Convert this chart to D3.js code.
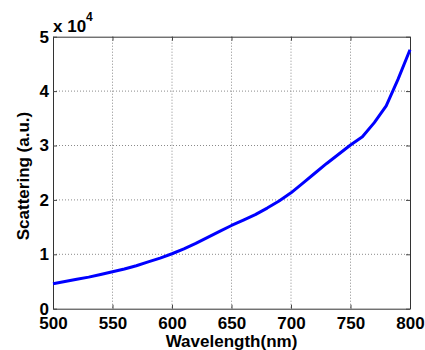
<!DOCTYPE html>
<html>
<head>
<meta charset="utf-8">
<script src="https://cdn.jsdelivr.net/npm/d3@7/dist/d3.min.js"></script>
<style>
  html, body { margin: 0; padding: 0; background: #fff; }
  svg { display: block; }
  text { font-family: "Liberation Sans", Arial, sans-serif; font-weight: bold; fill: #000; }
</style>
</head>
<body>
<svg id="chart" width="425" height="350"></svg>
<script>
const wavelengths = [500,510,520,530,540,550,560,570,580,590,600,610,620,630,640,650,660,670,680,690,700,710,720,730,740,750,760,770,780,790,800];
const scattering = [4600,5000,5400,5800,6300,6800,7300,7900,8600,9300,10100,11000,12000,13100,14200,15300,16300,17300,18500,19800,21300,23100,24900,26700,28400,30100,31600,34200,37300,42200,47600];
const xTicks = [500,550,600,650,700,750,800];
const yTicks = [0,10000,20000,30000,40000,50000];
const xLabel = "Wavelength(nm)";
const yLabel = "Scattering (a.u.)";

const svg = d3.select("#chart");
const L = 53, R = 410, T = 36.7, B = 308.7;
const x = d3.scaleLinear().domain([500, 800]).range([L, R]);
const y = d3.scaleLinear().domain([0, 50000]).range([B, T]);

// grid
const grid = svg.append("g");
grid.selectAll(".gx").data(xTicks.slice(1, -1)).join("line")
  .attr("x1", d => x(d)).attr("x2", d => x(d)).attr("y1", T).attr("y2", B)
  .attr("stroke", "#8a8a8a").attr("stroke-width", 1).attr("stroke-dasharray", "1,2");
grid.selectAll(".gy").data(yTicks.slice(1, -1)).join("line")
  .attr("x1", L).attr("x2", R).attr("y1", d => y(d)).attr("y2", d => y(d))
  .attr("stroke", "#8a8a8a").attr("stroke-width", 1).attr("stroke-dasharray", "1,2");

// axes
const fmtY = d => d3.format("d")(d / 10000);
const ax = (g) => g.call(s => s.select(".domain").attr("stroke", "#333"))
  .call(s => s.selectAll(".tick line").attr("stroke", "#444"))
  .call(s => s.selectAll("text").attr("font-size", 17).attr("font-family", "Liberation Sans, Arial, sans-serif").attr("font-weight", "bold").attr("fill", "#000"));

svg.append("g").attr("transform", `translate(0,${B})`)
  .call(d3.axisBottom(x).tickValues(xTicks).tickFormat(d3.format("d")).tickSizeInner(-4).tickSizeOuter(0).tickPadding(8))
  .call(ax);
svg.append("g").attr("transform", `translate(0,${T})`)
  .call(d3.axisTop(x).tickValues(xTicks).tickFormat("").tickSizeInner(-4).tickSizeOuter(0))
  .call(ax);
svg.append("g").attr("transform", `translate(${L},0)`)
  .call(d3.axisLeft(y).tickValues(yTicks).tickFormat(fmtY).tickSizeInner(-4).tickSizeOuter(0).tickPadding(4))
  .call(ax);
svg.append("g").attr("transform", `translate(${R},0)`)
  .call(d3.axisRight(y).tickValues(yTicks).tickFormat("").tickSizeInner(-4).tickSizeOuter(0))
  .call(ax);

// line
const line = d3.line().x((d, i) => x(wavelengths[i])).y(d => y(d)).curve(d3.curveLinear);
svg.append("path").datum(scattering)
  .attr("d", line).attr("fill", "none").attr("stroke", "#0000ff")
  .attr("stroke-width", 3).attr("stroke-linejoin", "round");

// exponent
const ex = svg.append("text").attr("x", 53).attr("y", 32).attr("font-size", 17);
ex.append("tspan").text("x 10");
ex.append("tspan").attr("font-size", 12).attr("dy", -11).text("4");

// labels
svg.append("text").attr("x", (L + R) / 2).attr("y", 347).attr("text-anchor", "middle")
  .attr("font-size", 17).text(xLabel);
svg.append("text").attr("transform", `translate(29,176) rotate(-90)`).attr("text-anchor", "middle")
  .attr("font-size", 17).text(yLabel);
</script>
</body>
</html>
